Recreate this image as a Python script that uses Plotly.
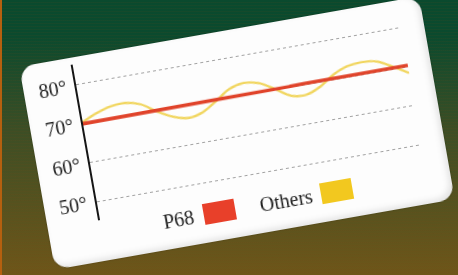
import plotly.graph_objects as go

# ---- data ----
x_points = list(range(23))
p68_values = [70.0, 70.0, 70.0, 70.1, 70.1, 70.1, 70.1, 70.1, 70.2, 70.2, 70.2, 70.2,
              70.2, 70.2, 70.2, 70.3, 70.3, 70.3, 70.3, 70.3, 70.3, 70.3, 70.3]
others_values = [70.4, 72.0, 73.1, 73.3, 72.3, 69.8, 67.8, 66.8, 67.6, 69.8, 72.2, 73.1,
                 72.4, 70.2, 67.8, 67.4, 68.8, 71.2, 72.7, 73.1, 72.6, 70.6, 68.3]
tick_values = [50, 60, 70, 80]
tick_labels = ["50°", "60°", "70°", "80°"]
series_names = ["P68", "Others"]

RED = "#e0432a"
YELLOW = "#efcf45"

fig = go.Figure()
fig.add_trace(go.Scatter(x=x_points, y=others_values, mode="lines", name=series_names[1],
                         line=dict(color=YELLOW, width=2.4, shape="spline"), opacity=0.85))
fig.add_trace(go.Scatter(x=x_points, y=p68_values, mode="lines", name=series_names[0],
                         line=dict(color=RED, width=3.6)))

W, H = 406, 206
ML, MR, MT, MB = 53, 23, 7, 41
PW, PH = W - ML - MR, H - MT - MB

def fx(u):
    return u / PW

def fy(v):
    # v measured in px downward from the top of the plot area
    return 1 - v / PH

serif = "Liberation Serif, Times New Roman, serif"

# legend built from annotations + squares (text left of swatch as in the reference)
legend_items = [
    (series_names[0], 77, 119, "#e8402a"),
    (series_names[1], 187, 238, "#f2c81f"),
]
for name, text_u, sq_u, col in legend_items:
    fig.add_annotation(x=fx(text_u), y=fy(PH + 13), xref="paper", yref="paper",
                       text=name, showarrow=False, xanchor="center", yanchor="middle",
                       font=dict(family=serif, size=20, color="#1e1e1e"))
    fig.add_shape(type="rect", xref="paper", yref="paper",
                  x0=fx(sq_u - 16), x1=fx(sq_u + 16),
                  y0=fy(PH + 23), y1=fy(PH + 2),
                  fillcolor=col, line=dict(width=0))

fig.update_layout(
    width=W, height=H,
    margin=dict(l=ML, r=MR, t=MT, b=MB),
    paper_bgcolor="rgba(0,0,0,0)",
    plot_bgcolor="rgba(0,0,0,0)",
    showlegend=False,
    xaxis=dict(range=[0, 22], visible=False, showgrid=False, zeroline=False),
    yaxis=dict(range=[45.25, 85.2], tickvals=tick_values, ticktext=tick_labels,
               showgrid=True, gridcolor="#a2a2a2", gridwidth=1.2, griddash="dot",
               zeroline=False, showline=True, linecolor="#151515", linewidth=2.2,
               ticks="", ticklabelstandoff=4,
               tickfont=dict(family=serif, size=20, color="#1e1e1e")),
)

post = """
var gd = document.getElementById('{plot_id}');
var b = document.body, h = document.documentElement;
h.style.margin = '0'; b.style.margin = '0';
h.style.width = '458px'; h.style.height = '275px'; h.style.overflow = 'hidden';
b.style.width = '458px'; b.style.height = '275px'; b.style.overflow = 'hidden';
b.style.background = 'linear-gradient(to right, #b5600f 0px, #b5600f 2px, rgba(0,0,0,0) 2px),' +
  'repeating-linear-gradient(to bottom, rgba(0,0,0,0) 0px, rgba(0,0,0,0) 2px, rgba(120,70,20,0.10) 2px, rgba(120,70,20,0.10) 3px),' +
  'linear-gradient(to bottom, #0a4a2e 0px, #0b4a2e 36px, #3c4e25 130px, #6e5619 275px)';
gd.style.position = 'absolute';
gd.style.left = '34px';
gd.style.top = '30px';
gd.style.background = '#fdfdfd';
gd.style.borderRadius = '15px';
gd.style.overflow = 'hidden';
gd.style.boxShadow = 'inset -3px -3px 6px rgba(0,0,0,0.10), 0 0 2px rgba(0,0,0,0.3)';
gd.style.transform = 'rotate(-10deg)';
gd.style.filter = 'blur(0.6px)';
"""

fig.write_html("out.html", config={"displayModeBar": False}, post_script=post)
